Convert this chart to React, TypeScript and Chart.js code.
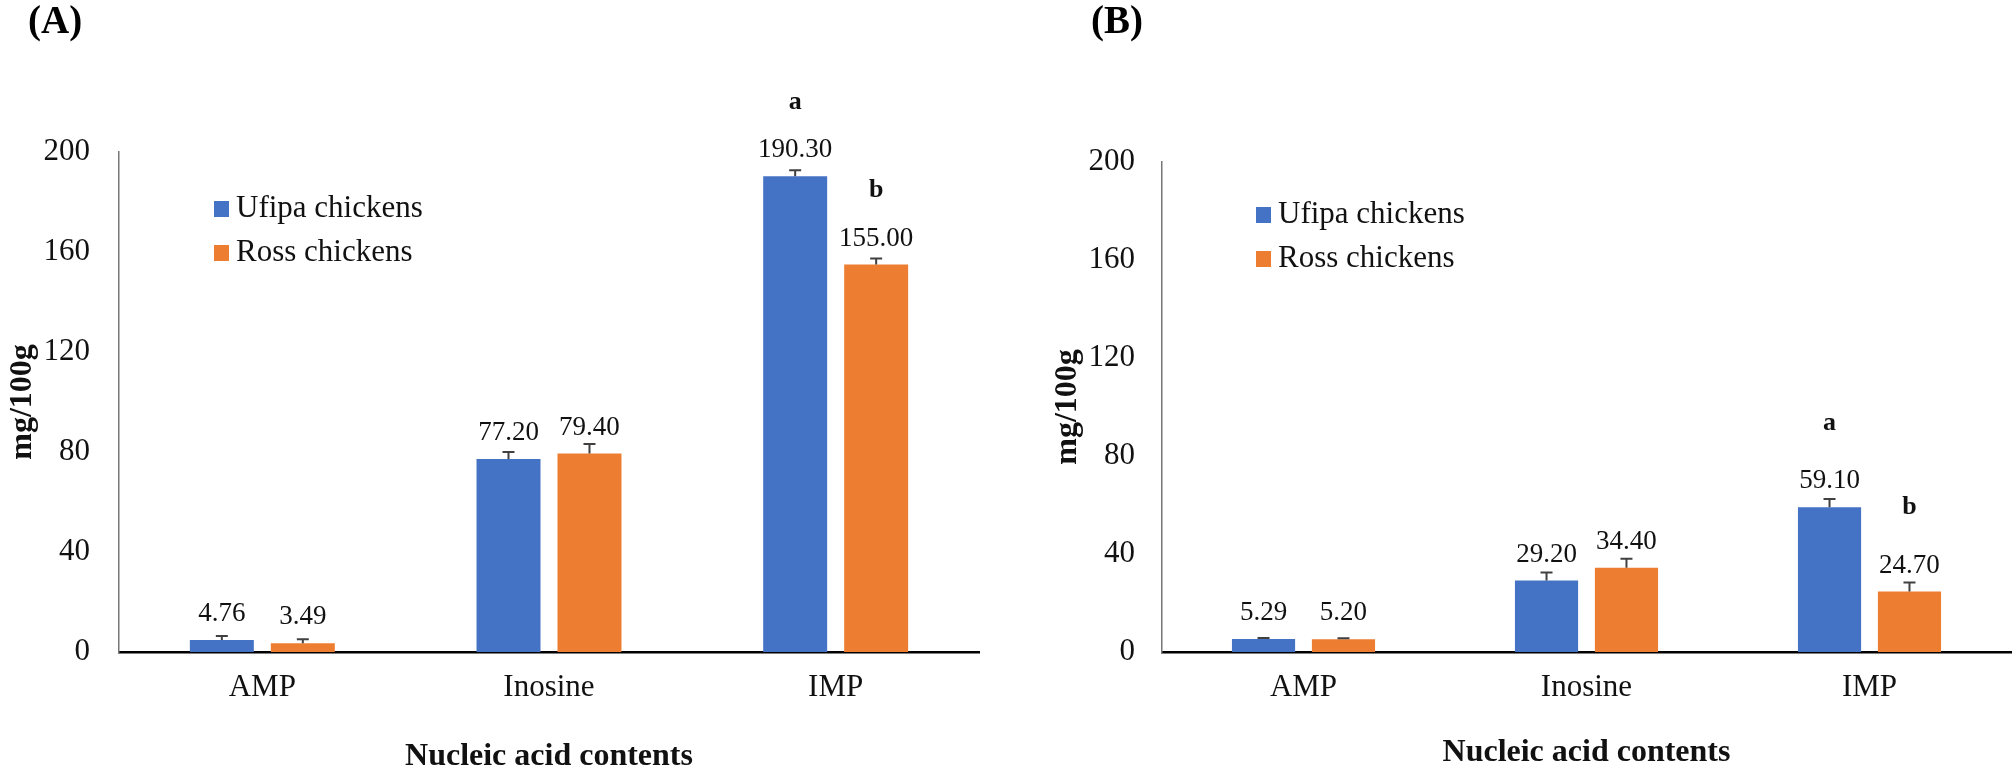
import React, { useEffect, useRef } from 'react';
import { Chart, registerables } from 'chart.js';

Chart.register(...registerables);

const FONT = "'Liberation Serif', 'Times New Roman', serif";

const categories = ['AMP', 'Inosine', 'IMP'];
const seriesNames = ['Ufipa chickens', 'Ross chickens'];
const seriesColors = ['#4472C4', '#ED7D31'];
const yMin = 0;
const yMax = 200;
const yStep = 40;

// Panel A
const ufipaA = [4.76, 77.2, 190.3];
const rossA = [3.49, 79.4, 155.0];
const ufipaErrA = [1.6, 2.8, 2.4];
const rossErrA = [1.6, 3.8, 2.4];
const ufipaLettersA = ['', '', 'a'];
const rossLettersA = ['', '', 'b'];

// Panel B
const ufipaB = [5.29, 29.2, 59.1];
const rossB = [5.2, 34.4, 24.7];
const ufipaErrB = [0.4, 3.3, 3.3];
const rossErrB = [0.4, 3.7, 3.7];
const ufipaLettersB = ['', '', 'a'];
const rossLettersB = ['', '', 'b'];

const annotatePlugin = {
  id: 'annotate',
  afterDatasetsDraw(chart: any, _args: any, opts: any) {
    const { ctx } = chart;
    const y = chart.scales.y;
    chart.data.datasets.forEach((ds: any, di: number) => {
      const meta = chart.getDatasetMeta(di);
      meta.data.forEach((el: any, i: number) => {
        const v = ds.data[i];
        const err = ds.errors[i];
        const x = el.x;
        const yTop = y.getPixelForValue(v + err);
        ctx.save();
        ctx.strokeStyle = '#404040';
        ctx.lineWidth = 2;
        ctx.beginPath();
        ctx.moveTo(x, el.y);
        ctx.lineTo(x, yTop);
        ctx.moveTo(x - 6, yTop);
        ctx.lineTo(x + 6, yTop);
        ctx.stroke();
        ctx.fillStyle = '#111';
        ctx.textAlign = 'center';
        ctx.textBaseline = 'middle';
        ctx.font = `27px ${FONT}`;
        const ly = el.y - opts.labelGap;
        ctx.fillText(v.toFixed(2), x, ly);
        const letter = ds.letters[i];
        if (letter) {
          ctx.font = `bold 26px ${FONT}`;
          ctx.fillText(letter, x, ly - opts.letterGap);
        }
        ctx.restore();
      });
    });
  },
};

const legendPlugin = {
  id: 'customLegend',
  afterDraw(chart: any, _args: any, opts: any) {
    const { ctx, chartArea } = chart;
    ctx.save();
    chart.data.datasets.forEach((ds: any, di: number) => {
      const cy = chartArea.top + opts.y + di * 44;
      const sx = chartArea.left + opts.x;
      ctx.fillStyle = ds.backgroundColor;
      ctx.fillRect(sx, cy - 8, 15, 16);
      ctx.fillStyle = '#111';
      ctx.font = `31px ${FONT}`;
      ctx.textAlign = 'left';
      ctx.textBaseline = 'middle';
      ctx.fillText(ds.label, sx + 22, cy);
    });
    ctx.restore();
  },
};

type PanelProps = {
  width: number;
  height: number;
  left: number;
  series: number[][];
  errors: number[][];
  letters: string[][];
  padding: { left: number; right: number; top: number; bottom: number };
  yWidth: number;
  xHeight: number;
  yTickPad: number;
  xTitlePadBottom: number;
  letterGap: number;
  legendX: number;
  legendY: number;
};

function Panel(p: PanelProps) {
  const ref = useRef<HTMLCanvasElement | null>(null);
  useEffect(() => {
    if (!ref.current) return;
    const chart = new Chart(ref.current, {
      type: 'bar',
      data: {
        labels: categories,
        datasets: p.series.map((d, i) => ({
          label: seriesNames[i],
          data: d,
          errors: p.errors[i],
          letters: p.letters[i],
          backgroundColor: seriesColors[i],
          borderWidth: 0,
          categoryPercentage: 0.565,
          barPercentage: 0.79,
        })) as any,
      },
      options: {
        responsive: false,
        animation: false,
        layout: { padding: p.padding },
        plugins: {
          legend: { display: false },
          tooltip: { enabled: false },
          annotate: { labelGap: 26, letterGap: p.letterGap },
          customLegend: { x: p.legendX, y: p.legendY },
        } as any,
        scales: {
          x: {
            grid: { display: false, drawTicks: false },
            border: { display: true, color: '#000', width: 2.5 },
            ticks: { color: '#111', font: { family: FONT, size: 31 }, padding: 17 },
            title: {
              display: true,
              text: 'Nucleic acid contents',
              color: '#111',
              font: { family: FONT, size: 32, weight: 'bold', lineHeight: 0.8 },
              padding: { top: 0, bottom: p.xTitlePadBottom },
            },
            afterFit: (s: any) => {
              s.height = p.xHeight;
            },
          },
          y: {
            min: yMin,
            max: yMax,
            grid: { display: false, drawTicks: false },
            border: { display: true, color: '#777', width: 1.5 },
            ticks: { stepSize: yStep, color: '#111', font: { family: FONT, size: 31 }, padding: p.yTickPad },
            title: {
              display: true,
              text: 'mg/100g',
              color: '#111',
              font: { family: FONT, size: 32, weight: 'bold' },
              padding: { top: 4, bottom: 4 },
            },
            afterFit: (s: any) => {
              s.width = p.yWidth;
            },
          },
        },
      },
      plugins: [annotatePlugin, legendPlugin],
    } as any);
    return () => chart.destroy();
  }, []);
  return (
    <canvas
      ref={ref}
      width={p.width}
      height={p.height}
      style={{ position: 'absolute', left: p.left, top: 0, width: p.width, height: p.height }}
    />
  );
}

const panelLabelStyle: React.CSSProperties = {
  position: 'absolute',
  top: 0,
  fontFamily: FONT,
  fontWeight: 'bold',
  fontSize: 39,
  lineHeight: '40px',
  color: '#000',
};

export default function App() {
  return (
    <div style={{ position: 'absolute', left: 0, top: 0, width: 2014, height: 770, background: '#fff', overflow: 'hidden' }}>
      <Panel
        width={1000}
        height={770}
        left={0}
        series={[ufipaA, rossA]}
        errors={[ufipaErrA, rossErrA]}
        letters={[ufipaLettersA, rossLettersA]}
        padding={{ left: 0, right: 21, top: 152, bottom: 0 }}
        yWidth={119}
        xHeight={118}
        yTickPad={29}
        xTitlePadBottom={0}
        letterGap={48}
        legendX={95}
        legendY={57}
      />
      <Panel
        width={1014}
        height={770}
        left={1000}
        series={[ufipaB, rossB]}
        errors={[ufipaErrB, rossErrB]}
        letters={[ufipaLettersB, rossLettersB]}
        padding={{ left: 45, right: 3, top: 162, bottom: 0 }}
        yWidth={117}
        xHeight={118}
        yTickPad={27}
        xTitlePadBottom={4}
        letterGap={58}
        legendX={94}
        legendY={53}
      />
      <div style={{ ...panelLabelStyle, left: 28 }}>(A)</div>
      <div style={{ ...panelLabelStyle, left: 1091 }}>(B)</div>
    </div>
  );
}
